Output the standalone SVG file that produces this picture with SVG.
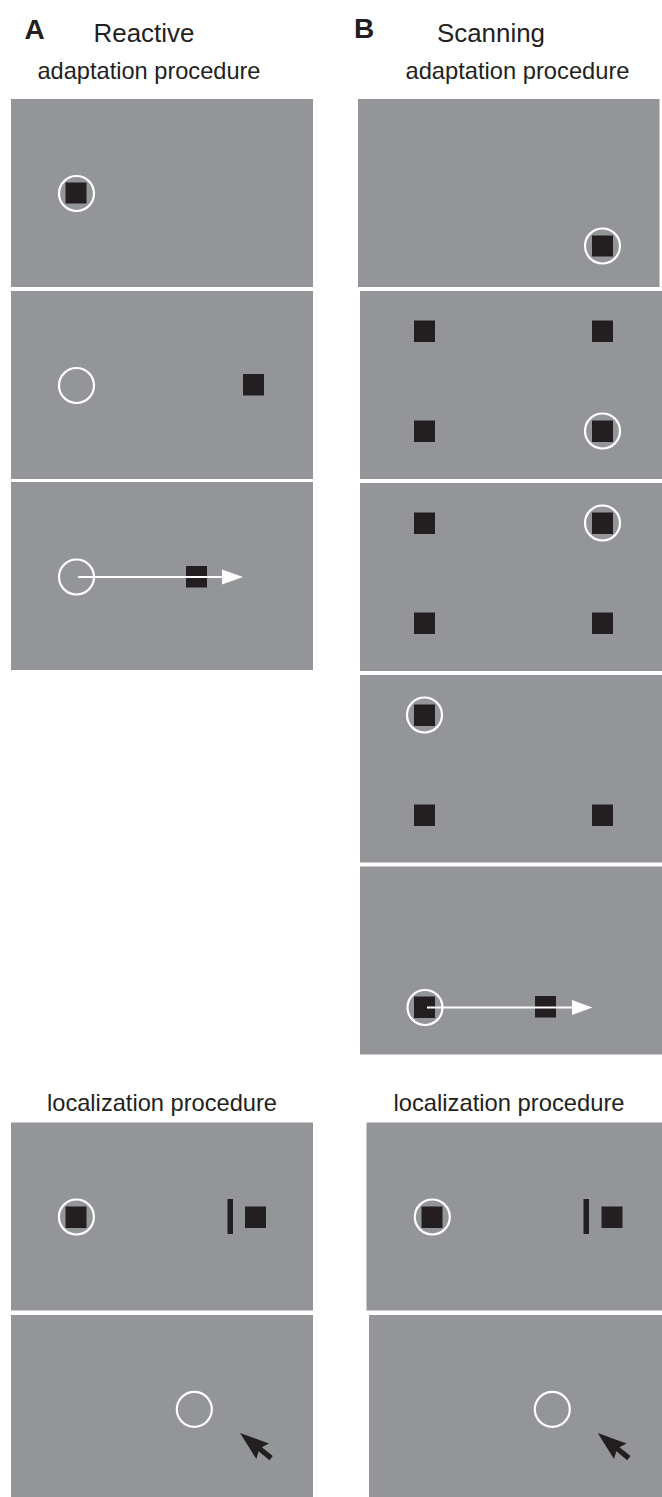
<svg xmlns="http://www.w3.org/2000/svg" width="662" height="1497" viewBox="0 0 662 1497">
<defs>
<style>
.bg{fill:#939598}
.sq{fill:#231f20}
.ring{fill:none;stroke:#ffffff;stroke-width:2.2}
.lbl{font-family:"Liberation Sans",Arial,sans-serif;fill:#231f20}
.big{font-size:25.5px}
.hd{font-size:28px;font-weight:bold}
.sub{font-size:24px}
.mv{stroke:#ffffff;stroke-width:2.2}
.head{fill:#ffffff}
</style>
</defs>
<rect width="662" height="1497" fill="#ffffff"/>
<g id="headers">
<text class="lbl hd" x="24.5" y="39">A</text>
<text class="lbl big" x="93.5" y="41.5" textLength="101" lengthAdjust="spacingAndGlyphs">Reactive</text>
<text class="lbl hd" x="354" y="38">B</text>
<text class="lbl big" x="437" y="41.5" textLength="108" lengthAdjust="spacingAndGlyphs">Scanning</text>
<text class="lbl sub" x="37.5" y="79" textLength="223" lengthAdjust="spacingAndGlyphs">adaptation procedure</text>
<text class="lbl sub" x="405.5" y="79" textLength="224" lengthAdjust="spacingAndGlyphs">adaptation procedure</text>
<text class="lbl sub" x="47" y="1111" textLength="230" lengthAdjust="spacingAndGlyphs">localization procedure</text>
<text class="lbl sub" x="393.5" y="1111" textLength="231" lengthAdjust="spacingAndGlyphs">localization procedure</text>
</g>
<g id="A1">
<rect class="bg" x="11" y="99" width="302" height="188"/>
<rect class="sq" x="65.5" y="182.5" width="21" height="21"/>
<circle class="ring" cx="76.5" cy="193.5" r="17.5"/>
</g>
<g id="A2">
<rect class="bg" x="11" y="291" width="302" height="188"/>
<circle class="ring" cx="76.5" cy="385.5" r="17.5"/>
<rect class="sq" x="243" y="374" width="21" height="21.5"/>
</g>
<g id="A3">
<rect class="bg" x="11" y="482" width="302" height="188"/>
<circle class="ring" cx="76.5" cy="577" r="17.5"/>
<rect class="sq" x="186" y="566" width="21" height="21.5"/>
</g>
<g id="B1">
<rect class="bg" x="358" y="99" width="301.5" height="188"/>
<rect class="sq" x="592" y="235.5" width="21" height="21"/>
<circle class="ring" cx="602.5" cy="246" r="17.5"/>
</g>
<g id="B2">
<rect class="bg" x="360" y="291" width="302" height="188"/>
<rect class="sq" x="414" y="320.5" width="21" height="21.5"/>
<rect class="sq" x="592" y="320.5" width="21" height="21.5"/>
<rect class="sq" x="414" y="420.5" width="21" height="21.5"/>
<rect class="sq" x="592" y="420.5" width="21" height="21.5"/>
<circle class="ring" cx="602.5" cy="431" r="17.5"/>
</g>
<g id="B3">
<rect class="bg" x="360" y="483" width="302" height="188"/>
<rect class="sq" x="414" y="512.5" width="21" height="21.5"/>
<rect class="sq" x="592" y="512.5" width="21" height="21.5"/>
<rect class="sq" x="414" y="612.5" width="21" height="21.5"/>
<rect class="sq" x="592" y="612.5" width="21" height="21.5"/>
<circle class="ring" cx="602.5" cy="523" r="17.5"/>
</g>
<g id="B4">
<rect class="bg" x="360" y="675" width="302" height="187.5"/>
<rect class="sq" x="414" y="704.5" width="21" height="21.5"/>
<rect class="sq" x="414" y="804.5" width="21" height="21.5"/>
<rect class="sq" x="592" y="804.5" width="21" height="21.5"/>
<circle class="ring" cx="424.5" cy="715" r="17.5"/>
</g>
<g id="B5">
<rect class="bg" x="360" y="866.5" width="302" height="188"/>
<rect class="sq" x="414" y="996.5" width="21" height="21.5"/>
<rect class="sq" x="535" y="996" width="21" height="21.5"/>
<circle class="ring" cx="425" cy="1007.5" r="17.5"/>
</g>
<g id="LA1">
<rect class="bg" x="11" y="1122.5" width="302" height="188"/>
<rect class="sq" x="65.5" y="1206.5" width="21" height="21.5"/>
<circle class="ring" cx="76.4" cy="1217" r="17.5"/>
<rect class="sq" x="227.5" y="1199" width="5.5" height="35"/>
<rect class="sq" x="245" y="1206.5" width="21" height="21.5"/>
</g>
<g id="LA2">
<rect class="bg" x="11" y="1315" width="302" height="182"/>
<circle class="ring" cx="194.3" cy="1409.3" r="17.5"/>
<polygon class="sq" transform="translate(240,1433) rotate(38.9)" points="0,0 29,-10 26,-2.6 40,-2.6 40,2.6 26,2.6 29,10"/>
</g>
<g id="LB1">
<rect class="bg" x="366.5" y="1122.5" width="295.5" height="188"/>
<rect class="sq" x="421.5" y="1206.5" width="21" height="21.5"/>
<circle class="ring" cx="432.3" cy="1217" r="17.5"/>
<rect class="sq" x="583.5" y="1199" width="5.5" height="35"/>
<rect class="sq" x="601.5" y="1206.5" width="21" height="21.5"/>
</g>
<g id="LB2">
<rect class="bg" x="369" y="1315" width="293" height="182"/>
<circle class="ring" cx="552.3" cy="1409.3" r="17.5"/>
<polygon class="sq" transform="translate(597.7,1433) rotate(38.9)" points="0,0 29,-10 26,-2.6 40,-2.6 40,2.6 26,2.6 29,10"/>
</g>
<g id="connectors">
<line class="mv" x1="78" y1="577" x2="224" y2="577"/>
<polygon class="head" points="222,569.5 243,577 222,584.5"/>
<line class="mv" x1="427" y1="1007.5" x2="574" y2="1007.5"/>
<polygon class="head" points="572,1000 592.5,1007.5 572,1015"/>
</g>
</svg>
